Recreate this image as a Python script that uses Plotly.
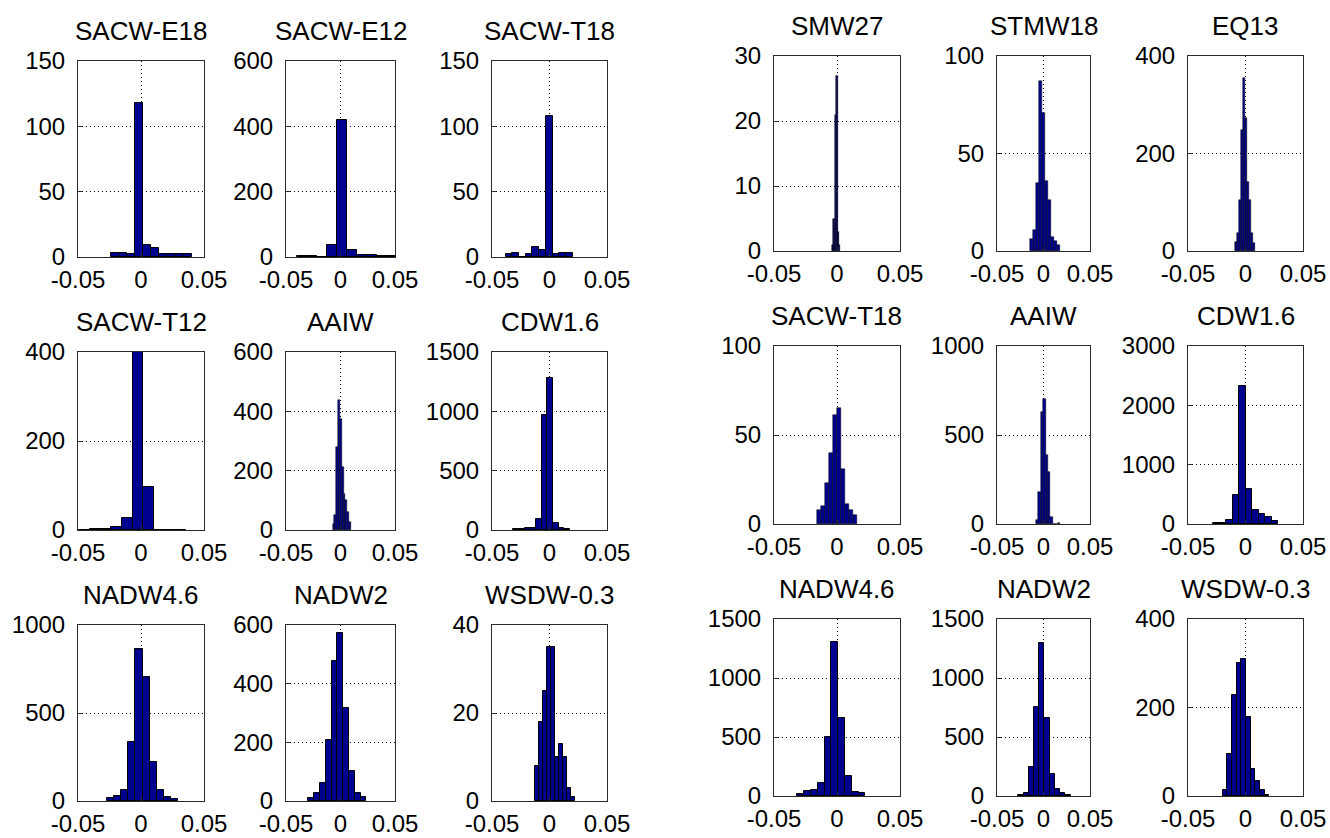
import plotly.graph_objects as go

# ---------------- data ----------------
titles = ["SACW-E18", "SACW-E12", "SACW-T18",
          "SACW-T12", "AAIW", "CDW1.6",
          "NADW4.6", "NADW2", "WSDW-0.3",
          "SMW27", "STMW18", "EQ13",
          "SACW-T18", "AAIW", "CDW1.6",
          "NADW4.6", "NADW2", "WSDW-0.3"]

# histogram bin range (first edge, last edge) per panel
bin_lo = [-0.0238, -0.0403, -0.0381, -0.0492, -0.0072, -0.0315, -0.0267, -0.0295, -0.0126,
          -0.0042, -0.0145, -0.0091, -0.0156, -0.0081, -0.0280, -0.0315, -0.0271, -0.0198]
bin_hi = [0.0402, 0.0517, 0.0201, 0.0357, 0.0094, 0.0178, 0.0291, 0.0238, 0.0225,
          0.0024, 0.0177, 0.0085, 0.0156, 0.0177, 0.0285, 0.0225, 0.0292, 0.0207]

counts_sacw_e18_a = [3, 3, 2, 118, 9, 7, 2, 2, 2, 2]
counts_sacw_e12_a = [4, 4, 1, 36, 420, 22, 7, 7, 2, 2]
counts_sacw_t18_a = [2, 3, 0, 2, 8, 5, 108, 2, 3, 3]
counts_sacw_t12_a = [1, 3, 3, 6, 28, 400, 97, 1, 1, 1]
counts_aaiw_a = [20, 50, 280, 437, 375, 212, 120, 100, 60, 28]
counts_cdw16_a = [8, 12, 20, 20, 95, 970, 1284, 62, 20, 8]
counts_nadw46_a = [15, 30, 60, 333, 864, 705, 219, 60, 23, 9]
counts_nadw2_a = [9, 27, 61, 209, 476, 574, 317, 101, 27, 12]
counts_wsdw03_a = [8, 18, 25, 35, 35, 10, 13, 10, 3, 1]

counts_smw27_b = [1, 1, 5, 5, 21, 27, 27, 3, 3, 1]
counts_stmw18_b = [6, 11, 35, 87, 71, 36, 26, 7, 5, 3]
counts_eq13_b = [19, 36, 104, 249, 354, 272, 142, 104, 36, 17]
counts_sacw_t18_b = [8, 10, 23, 40, 61, 65, 31, 11, 8, 5]
counts_aaiw_b = [24, 178, 627, 705, 390, 293, 39, 0, 0, 5]
counts_cdw16_b = [17, 22, 67, 484, 2324, 585, 242, 163, 118, 45]
counts_nadw46_b = [14, 40, 51, 110, 501, 1308, 665, 167, 34, 23]
counts_nadw2_b = [11, 28, 246, 756, 1299, 657, 190, 59, 28, 11]
counts_wsdw03_b = [13, 94, 228, 300, 309, 179, 60, 35, 13, 3]

all_counts = [counts_sacw_e18_a, counts_sacw_e12_a, counts_sacw_t18_a,
              counts_sacw_t12_a, counts_aaiw_a, counts_cdw16_a,
              counts_nadw46_a, counts_nadw2_a, counts_wsdw03_a,
              counts_smw27_b, counts_stmw18_b, counts_eq13_b,
              counts_sacw_t18_b, counts_aaiw_b, counts_cdw16_b,
              counts_nadw46_b, counts_nadw2_b, counts_wsdw03_b]

y_max = [150, 600, 150, 400, 600, 1500, 1000, 600, 40,
         30, 100, 400, 100, 1000, 3000, 1500, 1500, 400]
y_step = [50, 200, 50, 200, 200, 500, 500, 200, 20,
          10, 50, 200, 50, 500, 1000, 500, 500, 200]

x_tick_vals = [-0.05, 0, 0.05]
x_tick_text = ["-0.05", "0", "0.05"]

# ---------------- layout geometry (pixels) ----------------
W, H = 1330, 838
left_cols = [(78, 204), (286, 395), (492, 607)]
left_rows = [(61, 257), (352, 530), (625, 801)]
right_cols = [(774, 900), (997, 1090), (1188, 1303)]
right_rows = [(56, 251), (346, 524), (619, 796)]

boxes = []
for cols, rows in ((left_cols, left_rows), (right_cols, right_rows)):
    for r in rows:
        for c in cols:
            boxes.append((c, r))

FONT = "Liberation Sans, Arial, Helvetica, sans-serif"
BAR = "#00008F"
AX = "#2b2b2b"

fig = go.Figure()
annotations = []
for i in range(18):
    k = i + 1
    n = len(all_counts[i])
    w = (bin_hi[i] - bin_lo[i]) / n
    centers = [bin_lo[i] + (j + 0.5) * w for j in range(n)]
    (x0, x1), (y0, y1) = boxes[i]
    px_w = w * (x1 - x0) / 0.1
    edge_w = 1 if px_w >= 4 else 0.5
    fig.add_trace(go.Bar(
        x=centers, y=all_counts[i], width=w,
        marker=dict(color=BAR, line=dict(color="black", width=edge_w)),
        xaxis=f"x{k}", yaxis=f"y{k}", showlegend=False, hoverinfo="x+y"))
    xd = [x0 / W, x1 / W]
    yd = [1 - y1 / H, 1 - y0 / H]
    yticks = list(range(0, y_max[i] + 1, y_step[i]))
    common = dict(showline=True, mirror=True, linecolor=AX, linewidth=1,
                  showgrid=True, gridcolor="black", gridwidth=1, griddash="1px,3px",
                  zeroline=False, ticks="inside", ticklen=4, tickcolor=AX,
                  automargin=False,
                  tickfont=dict(family=FONT, size=24, color="black"), fixedrange=True)
    fig.layout[f"xaxis{k}"] = dict(domain=xd, anchor=f"y{k}", range=[-0.05, 0.05],
                                   tickvals=x_tick_vals, ticktext=x_tick_text,
                                   ticklabelstandoff=1, **common)
    fig.layout[f"yaxis{k}"] = dict(domain=yd, anchor=f"x{k}", range=[0, y_max[i]],
                                   tickvals=yticks, ticktext=[str(v) for v in yticks],
                                   ticklabelstandoff=7, **common)
    annotations.append(dict(text=titles[i], x=(xd[0] + xd[1]) / 2, y=yd[1],
                            xref="paper", yref="paper", xanchor="center", yanchor="bottom",
                            yshift=13, showarrow=False,
                            font=dict(family=FONT, size=26, color="black")))

fig.update_layout(width=W, height=H, margin=dict(l=0, r=0, t=0, b=0, autoexpand=False),
                  paper_bgcolor="white", plot_bgcolor="white",
                  bargap=0, annotations=annotations, showlegend=False)

fig.write_html("out.html")
